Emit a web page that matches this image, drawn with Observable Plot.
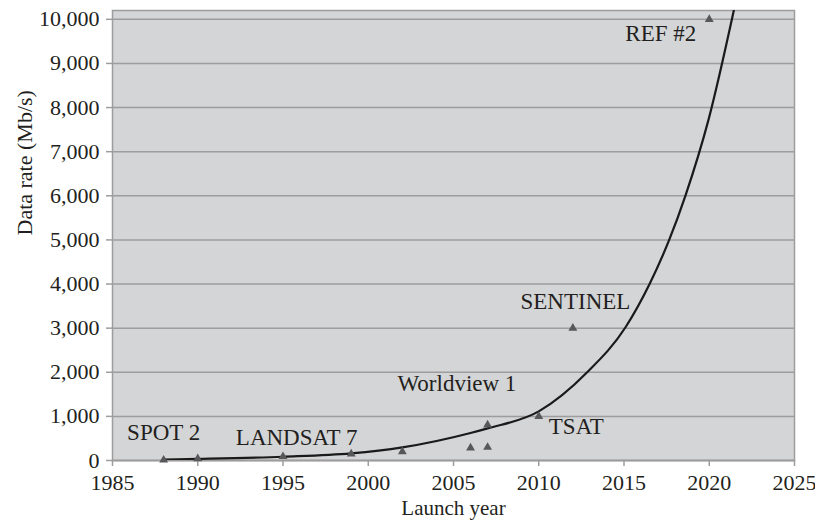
<!DOCTYPE html>
<html>
<head>
<meta charset="utf-8">
<script src="https://cdn.jsdelivr.net/npm/d3@7"></script>
<script src="https://cdn.jsdelivr.net/npm/@observablehq/plot@0.6"></script>
<style>
  html, body { margin: 0; padding: 0; background: #ffffff; }
</style>
</head>
<body>
<div id="chart"></div>
<script>
// Satellite launches (triangles)
const launchYears = [1988, 1990, 1995, 1999, 2002, 2006, 2007, 2007, 2010, 2012, 2020];
const launchRates = [10, 40, 90, 150, 200, 285, 300, 805, 1000, 3000, 10000];

// Trend curve
const trendYears = [1988, 1990, 1995, 1999, 2002, 2006, 2007, 2010, 2012.84, 2015.09, 2016.5, 2017.65, 2018.6, 2019.97, 2021.44];
const trendRates = [20, 35, 85, 160, 297, 623, 728, 1114, 2000, 3020, 4000, 5000, 6000, 7744, 10200];

// Annotations
const labelNames = ["SPOT 2", "LANDSAT 7", "Worldview 1", "TSAT", "SENTINEL", "REF #2"];
const labelYears = [1988.0, 1995.8, 2005.2, 2012.2, 2012.15, 2017.16];
const labelRates = [630, 517, 1740, 766, 3600, 9680];

// Ticks
const xTicks = [1985, 1990, 1995, 2000, 2005, 2010, 2015, 2020, 2025];
const yTicks = [0, 1000, 2000, 3000, 4000, 5000, 6000, 7000, 8000, 9000, 10000];

const launches = launchYears.map((x, i) => ({x, y: launchRates[i]}));
const trend = trendYears.map((x, i) => ({x, y: trendRates[i]}));
const labels = labelNames.map((name, i) => ({name, x: labelYears[i], y: labelRates[i]}));

const font = "'Liberation Serif', 'DejaVu Serif', serif";
const ink = "#231f20";
const gridColor = "#9d9d9d";

const chart = Plot.plot({
  width: 815,
  height: 529,
  marginLeft: 112,
  marginRight: 21,
  marginTop: 10,
  marginBottom: 69,
  style: {fontFamily: font, fontSize: "22px", color: ink, background: "#ffffff"},
  x: {domain: [1985, 2025]},
  y: {domain: [0, 10200]},
  marks: [
    Plot.frame({fill: "#d4d5d7", stroke: null}),
    Plot.gridY(yTicks, {stroke: gridColor, strokeOpacity: 1, strokeWidth: 1.5}),
    Plot.frame({stroke: gridColor, strokeWidth: 1.5}),
    Plot.axisY(yTicks, {
      tickSize: 6, tickPadding: 7, stroke: gridColor, strokeWidth: 1.5,
      tickFormat: d3.format(","), fontSize: 22, fill: ink, label: null
    }),
    Plot.axisX(xTicks, {
      tickSize: 6, tickPadding: 8, stroke: gridColor, strokeWidth: 1.5,
      tickFormat: d => String(d), fontSize: 22, fill: ink, label: null
    }),
    Plot.ruleY([0], {stroke: gridColor, strokeWidth: 1.5}),
    Plot.line(trend, {x: "x", y: "y", curve: "monotone-x", stroke: "#1a1a1a", strokeWidth: 2.2, clip: true}),
    Plot.dot(launches, {x: "x", y: "y", symbol: "triangle", r: 3.3, fill: "#58585a", stroke: null}),
    Plot.text(labels, {x: "x", y: "y", text: "name", fontSize: 23, fill: ink, textAnchor: "middle", lineAnchor: "middle"}),
    Plot.text(["Launch year"], {frameAnchor: "bottom", dy: 54, fontSize: 21, fill: ink}),
    Plot.text(["Data rate (Mb/s)"], {frameAnchor: "left", dx: -88, rotate: -90, fontSize: 22, fill: ink})
  ]
});
document.getElementById("chart").appendChild(chart);
</script>
</body>
</html>
